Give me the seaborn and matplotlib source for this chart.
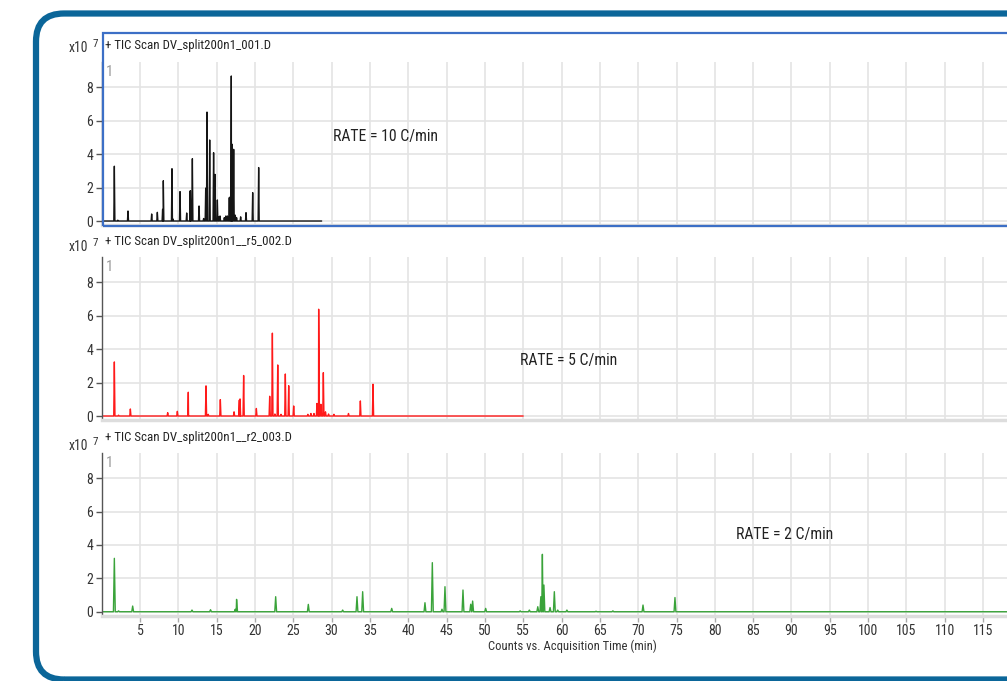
import numpy as np
import pandas as pd
import matplotlib
matplotlib.use("Agg")
import matplotlib.pyplot as plt
import seaborn as sns
from matplotlib.patches import FancyBboxPatch, Rectangle
from matplotlib.transforms import IdentityTransform
from matplotlib import font_manager as fm

# ---------------- data (retention time in min, counts in x10^7) ----------------
titles = ["+ TIC Scan DV_split200n1_001.D",
          "+ TIC Scan DV_split200n1__r5_002.D",
          "+ TIC Scan DV_split200n1__r2_003.D"]
rate_labels = ["RATE = 10 C/min", "RATE = 5 C/min", "RATE = 2 C/min"]

times_10 = [1.65, 2.1, 3.43, 6.52, 7.26, 7.95, 8.04, 9.17, 9.3, 10.22, 11.09, 11.5,
            11.57, 11.83, 12.7, 13.3, 13.57, 13.74, 14.09, 14.6, 14.78, 15.09, 15.3,
            15.44, 16.0, 16.2, 16.4, 16.65, 16.78, 16.91, 17.0, 17.22, 17.43, 17.6,
            18.13, 18.83, 19.7, 20.48]
heights_10 = [3.28, 0.05, 0.6, 0.42, 0.52, 0.7, 2.41, 3.13, 0.12, 1.76, 0.48, 1.75,
              1.82, 3.73, 0.9, 0.15, 1.97, 6.52, 4.85, 4.09, 2.79, 1.26, 0.25,
              0.3, 0.2, 0.3, 0.3, 1.4, 1.45, 8.68, 4.6, 4.29, 0.35, 0.2,
              0.25, 0.5, 1.7, 3.2]
end_10 = 28.7

times_5 = [1.65, 2.2, 3.74, 8.61, 9.87, 11.25, 11.3, 13.61, 13.9, 15.48, 17.27, 17.96,
           18.05, 18.52, 20.18, 21.92, 22.27, 22.6, 22.97, 23.4, 23.96, 24.4, 25.05,
           26.9, 27.3, 27.7, 28.09, 28.31, 28.37, 28.6, 28.92, 29.2, 29.6, 30.3, 32.2,
           33.75, 35.4]
heights_5 = [3.23, 0.05, 0.42, 0.2, 0.28, 0.35, 1.42, 1.8, 0.1, 0.98, 0.25, 0.95,
             1.02, 2.42, 0.45, 1.18, 4.95, 0.12, 3.05, 0.1, 2.51, 1.81, 0.6,
             0.1, 0.15, 0.15, 0.75, 6.38, 2.85, 0.7, 2.59, 0.25, 0.12, 0.1, 0.15,
             0.9, 1.9]
end_5 = 55.0

times_2 = [1.65, 2.2, 4.04, 11.78, 14.2, 17.43, 17.6, 22.7, 26.96, 31.44, 33.31, 34.05,
           37.84, 42.18, 43.14, 44.4, 44.79, 47.14, 48.15, 48.4, 50.1, 54.6, 55.8, 56.9,
           57.3, 57.5, 57.7, 58.5, 59.06, 59.5, 60.7, 64.5, 66.7, 70.63, 74.8]
heights_2 = [3.2, 0.05, 0.34, 0.1, 0.12, 0.15, 0.74, 0.9, 0.44, 0.1, 0.9, 1.2,
             0.2, 0.54, 2.94, 0.15, 1.5, 1.3, 0.45, 0.64, 0.2, 0.05, 0.1, 0.3,
             0.9, 3.44, 1.6, 0.25, 1.2, 0.1, 0.1, 0.03, 0.05, 0.4, 0.85]
end_2 = 125.0

y_ticks = [0, 2, 4, 6, 8]
x_ticks = list(range(5, 120, 5))

series = [(times_10, heights_10, end_10), (times_5, heights_5, end_5), (times_2, heights_2, end_2)]
colors = ["#151515", "#ff1a1a", "#3aa33a"]
half_widths = [0.07, 0.08, 0.12]

# ---------------- styling ----------------
sns.set_theme(style="whitegrid")
available = {f.name for f in fm.fontManager.ttflist}
narrow_pref = ['Liberation Sans Narrow', 'Arial Narrow', 'Roboto Condensed', 'Archivo Narrow',
               'PT Sans Narrow', 'IBM Plex Sans Condensed', 'Liberation Sans']
fams = [f for f in narrow_pref if f in available] + ['DejaVu Sans']
plt.rcParams['font.family'] = fams

W, H = 1007, 681
fig = plt.figure(figsize=(W / 100, H / 100), dpi=100)
fig.patch.set_facecolor("white")


def fx(x):
    return x / W


def fy(y):
    return 1 - y / H


def build_trace(times, heights, end, hw):
    pts = [(0.2, 0.0), (end, 0.0)]
    for t, h in zip(times, heights):
        pts += [(t - hw, 0.0), (t, h), (t + hw, 0.0)]
    pts.sort()
    return pd.DataFrame(pts, columns=["time", "counts"])


PX_PER_MIN = 7.664
LEFT = 101.7
panel_px = [(62.3, 225.2), (257.0, 420.2), (453.2, 615.9)]
title_y = [46, 242, 438]
xexp_y = [48, 247, 446]
rate_pos = [(333, 137), (520, 361), (736, 535)]

for i, (times, heights, end) in enumerate(series):
    top, bot = panel_px[i]
    ax = fig.add_axes([fx(LEFT), fy(bot), 1 - fx(LEFT), (bot - top) / H])
    ax.set_facecolor("white")
    df = build_trace(times, heights, end, half_widths[i])
    sns.lineplot(data=df, x="time", y="counts", color=colors[i], lw=1.0,
                 estimator=None, sort=False, ax=ax, legend=False)
    ax.set_xlim(0, (W - LEFT) / PX_PER_MIN)
    ax.set_ylim(-0.25, 9.5)
    ax.set_yticks(y_ticks)
    ax.set_xticks(x_ticks)
    ax.grid(True, color="#e4e4e4", lw=1.2)
    ax.set_axisbelow(True)
    ax.set_xlabel("")
    ax.set_ylabel("")
    for s in ["top", "right"]:
        ax.spines[s].set_visible(False)
    ax.spines["left"].set_color("#555555")
    ax.spines["left"].set_linewidth(1.0)
    ax.spines["bottom"].set_color("#dddddd")
    ax.spines["bottom"].set_linewidth(2.5)
    ax.tick_params(axis="y", left=True, length=4, width=1, color="#555555",
                   labelsize=10, labelcolor="#333333", pad=2)
    if i == 2:
        ax.tick_params(axis="x", bottom=True, length=4, width=1, color="#aaaaaa",
                       labelsize=10, labelcolor="#333333", pad=2)
    else:
        ax.tick_params(axis="x", bottom=False, labelbottom=False, length=0)

    # texts
    fig.text(fx(105), fy(title_y[i]), titles[i], fontsize=9.3, color="#222222",
             ha="left", va="center")
    fig.text(fx(69), fy(xexp_y[i]), "x10", fontsize=9.8, color="#333333",
             ha="left", va="center")
    fig.text(fx(93), fy(xexp_y[i] - 4), "7", fontsize=8, color="#333333",
             ha="left", va="center")
    fig.text(fx(106), fy(top + 10), "1", fontsize=10.5, color="#9a9a9a",
             ha="left", va="center")
    fig.text(fx(rate_pos[i][0]), fy(rate_pos[i][1]), rate_labels[i], fontsize=11.3,
             color="#222222", ha="left", va="center")

fig.text(fx(572), fy(646), "Counts vs. Acquisition Time (min)", fontsize=9.1,
         color="#333333", ha="center", va="center")

# selection box around first panel
sel = Rectangle((102.5, H - 226), 1200, 226 - 32.5, transform=IdentityTransform(),
                fill=False, edgecolor="#3c6fc6", lw=1.6, zorder=10)
fig.add_artist(sel)

# outer rounded frame
frame = FancyBboxPatch((36, 1.5), 1200, H - 13.5 - 1.5,
                       boxstyle="round,pad=0,rounding_size=28",
                       transform=IdentityTransform(), fill=False,
                       edgecolor="#0b6699", lw=4.5, zorder=11)
fig.add_artist(frame)

fig.savefig("out.png", dpi=100, facecolor="white")
